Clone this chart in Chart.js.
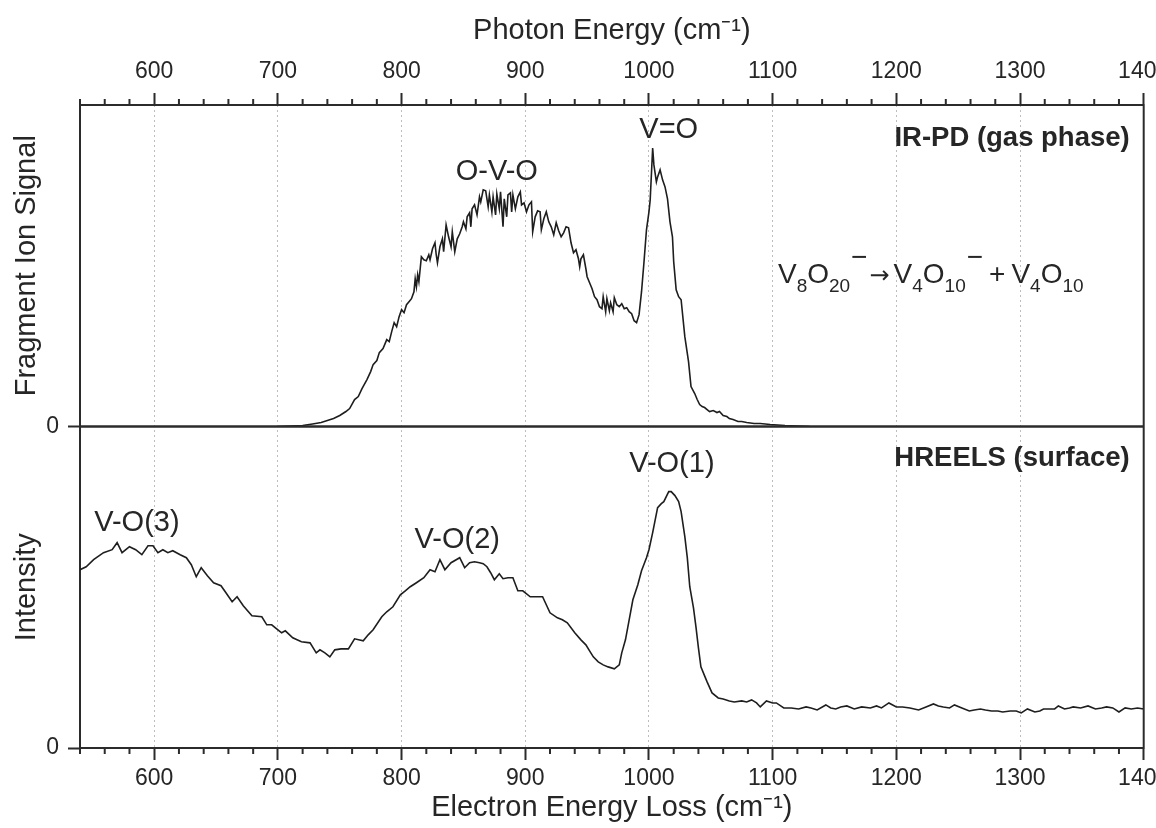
<!DOCTYPE html>
<html><head><meta charset="utf-8">
<script src="https://cdn.jsdelivr.net/npm/chart.js@4.4.1/dist/chart.umd.min.js"></script>
<style>html,body{margin:0;padding:0;background:#fff;}canvas{display:block;}</style>
</head><body>
<canvas id="c" width="1156" height="828"></canvas>
<script>
// ---------- data (x in cm^-1, y in arbitrary intensity units) ----------
const irpdX = [700,710,720,728,735,740,745,750,755,758,
762,765,768,772,775,777,780,782,785,788,
790,792,794,796,798,800,802,804,806,808,
810,811,812,813,814,816,818,820,822,823,
825,827,828,829,831,833,834,836,838,840,
841,843,845,847,849,850,852,853,855,856,
857,859,861,863,864,866,868,870,871,873,
874,876,877,879,880,882,883,885,886,888,
889,890,892,894,896,897,899,901,903,905,
906,908,910,912,913,915,917,919,921,923,
925,927,929,931,933,935,937,939,941,943,
944,945,947,949,950,952,954,956,958,960,
962,963,965,966,968,969,971,972,974,976,
978,980,982,984,986,988,990,992,994,996,
998,1000,1001,1003,1004,1006,1007,1009,1011,1013,
1015,1017,1019,1020,1022,1024,1026,1029,1032,1034,
1037,1039,1041,1043,1045,1047,1049,1052,1055,1057,
1060,1063,1065,1068,1072,1075,1079,1085,1090,1098,
1110,1120,1130];
const irpdY = [0,0.5,1,2.5,4,6,8,11,15,18,
27,30,38,47,55,62,66,74,78,87,
85,95,104,100,110,117,114,122,125,128,
135,148,140,152,145,170,167,166,172,167,
178,184,172,164,180,188,175,202,190,180,
195,175,188,193,200,205,198,210,214,200,
218,222,212,230,225,237,236,220,232,215,
230,212,233,218,235,200,228,210,232,234,
215,232,218,230,235,222,224,215,222,225,
195,210,216,215,197,208,215,205,200,192,
204,196,190,194,200,199,184,174,177,168,
160,168,172,158,150,144,138,130,127,120,
118,130,115,128,116,124,115,129,122,120,
123,118,119,115,113,106,104,112,135,165,
197,215,227,279,262,245,250,257,247,240,
228,205,190,165,137,130,127,90,65,40,
33,27,22,20,19,17,15,16,14,15,
11,10,8,7,5,5,4,3,3,2,
1,0.5,0];

const hreelsX = [540,545,551,559,566,570,574,580,585,590,
595,599,603,607,611,615,621,626,630,634,
638,643,648,654,658,663,667,672,679,687,
691,695,699,703,706,712,719,726,731,734,
738,742,746,751,757,762,769,773,777,784,
788,793,799,803,807,812,818,823,827,831,
835,840,847,851,855,859,863,866,869,872,
875,879,882,886,890,894,898,904,909,914,
920,926,930,934,940,945,949,952,955,959,
963,967,972,976,978,981,984,987,991,994,
998,1000,1003,1007,1010,1012,1016,1018,1021,1024,
1026,1029,1031,1033,1036,1038,1040,1042,1045,1047,
1051,1056,1060,1065,1069,1075,1079,1083,1087,1090,
1095,1100,1103,1109,1115,1121,1127,1131,1136,1143,
1147,1151,1155,1160,1166,1172,1179,1184,1188,1194,
1200,1205,1211,1218,1224,1230,1234,1238,1243,1247,
1253,1259,1263,1268,1272,1277,1282,1286,1292,1297,
1301,1306,1312,1316,1319,1324,1328,1331,1336,1340,
1343,1349,1355,1361,1366,1370,1375,1380,1385,1390,
1395,1400];
const hreelsY = [178,181,188,195,198,205,195,201,198,193,
202,202,195,198,195,197,193,190,183,171,
180,172,165,162,155,146,151,142,132,131,
123,123,119,115,117,110,106,105,95,98,
95,91,98,99,99,109,107,113,118,131,
136,141,153,157,161,165,170,178,176,188,
178,185,190,180,185,186,185,184,181,175,
168,174,169,170,170,157,157,151,151,151,
135,130,128,125,115,108,103,97,91,86,
83,81,79,83,95,108,128,148,163,177,
190,198,215,240,244,246,256,256,252,246,
236,211,190,161,140,121,100,81,72,66,
55,50,49,47,46,47,46,48,45,41,
47,45,45,40,40,39,41,40,38,43,
40,39,41,42,39,41,40,42,40,45,
41,41,40,38,41,44,42,41,40,43,
40,37,38,39,38,37,37,36,37,37,
35,39,36,37,39,39,39,42,39,40,
41,40,42,39,40,41,40,36,40,39,
40,39];

const xMin = 540, xMax = 1400, majorStep = 100, minorStep = 20;
const yTopMax = 322, yBotMax = 321;
const topTitle = 'Photon Energy (cm\u207B\u00B9)';
const bottomTitle = 'Electron Energy Loss (cm\u207B\u00B9)';
const yTopTitle = 'Fragment Ion Signal';
const yBotTitle = 'Intensity';
const panelTopLabel = 'IR-PD (gas phase)';
const panelBotLabel = 'HREELS (surface)';
const peakLabels = [
  {text:'O-V-O', x:877, y:255, axis:'yTop'},
  {text:'V=O', x:1016, y:297, axis:'yTop'},
  {text:'V-O(1)', x:1018.5, y:284, axis:'yBot'},
  {text:'V-O(3)', x:586, y:225, axis:'yBot'},
  {text:'V-O(2)', x:845, y:208, axis:'yBot'}
];

// ---------- styling ----------
const FONT = '"Liberation Sans", Arial, Helvetica, sans-serif';
const INK = '#262626';
const AXIS = '#2b2b2b';

const isMajor = v => Math.abs(v % majorStep) < 1e-6;

function xAxis(position) {
  return {
    type:'linear', position, min:xMin, max:xMax,
    ticks:{stepSize:minorStep, autoSkip:false, maxRotation:0, color:INK,
      padding: position==='top'?8:5,
      font:{family:FONT, size:23},
      callback:v => isMajor(v) ? String(v) : ''},
    grid:{
      drawOnChartArea: position==='bottom',
      color: c => (c.tick && isMajor(c.tick.value) && c.tick.value!==xMax) ? '#bdbdbd' : 'rgba(0,0,0,0)',
      lineWidth:1,
      tickLength:12, tickWidth:2,
      tickColor: c => (c.tick && isMajor(c.tick.value)) ? AXIS : 'rgba(0,0,0,0)',
      tickBorderDash:[]
    },
    border:{display:true, color:AXIS, width:2, dash:[2,3]},
    title:{display:true, text: position==='top'?topTitle:bottomTitle, color:INK,
      font:{family:FONT, size:29},
      padding: position==='top'?{top:14,bottom:0}:{top:0,bottom:3}},
    afterFit: s => { s.height = position==='top'?105:80; s.paddingLeft=0; s.paddingRight=0; }
  };
}
function yAxis(max, title) {
  return {
    type:'linear', position:'left', stack:'panels', stackWeight:1, min:0, max,
    afterBuildTicks: s => { s.ticks = [{value:0}]; },
    ticks:{color:INK, padding:9, font:{family:FONT, size:23}},
    grid:{drawOnChartArea:false, tickLength:12, tickWidth:2, tickColor:AXIS},
    border:{display:true, color:AXIS, width:2},
    title:{display:true, text:title, color:INK, font:{family:FONT, size:29}, padding:{top:10,bottom:0}},
    afterFit: s => { s.width = 80; s.paddingTop=0; s.paddingBottom=0; }
  };
}

const decor = {
  id:'decor',
  afterDraw(chart){
    const {ctx, chartArea:a, scales} = chart;
    const yT = scales.yTop, yB = scales.yBot, x = scales.x;
    ctx.save();
    ctx.strokeStyle = AXIS;
    ctx.lineWidth = 2;
    ctx.beginPath(); ctx.moveTo(a.right, a.top-1); ctx.lineTo(a.right, a.bottom+1); ctx.stroke();
    const ym = yT.getPixelForValue(0);
    ctx.lineWidth = 2.5;
    ctx.beginPath(); ctx.moveTo(a.left, ym); ctx.lineTo(a.right, ym); ctx.stroke();
    ctx.lineWidth = 2;
    for (const s of [scales.x, scales.x2]) {
      const y0 = s.position==='bottom' ? a.bottom : a.top;
      const dir = s.position==='bottom' ? 1 : -1;
      for (const t of s.ticks) {
        if (isMajor(t.value)) continue;
        const px = s.getPixelForValue(t.value);
        ctx.beginPath(); ctx.moveTo(px, y0); ctx.lineTo(px, y0+dir*6); ctx.stroke();
      }
    }
    // labels
    ctx.fillStyle = INK;
    ctx.textBaseline = 'middle';
    ctx.textAlign = 'center';
    ctx.font = '29px '+FONT;
    for (const l of peakLabels) {
      ctx.fillText(l.text, x.getPixelForValue(l.x), scales[l.axis].getPixelForValue(l.y));
    }
    ctx.font = 'bold 27.5px '+FONT;
    ctx.textAlign = 'right';
    ctx.fillText(panelTopLabel, a.right-14, yT.top+33);
    ctx.fillText(panelBotLabel, a.right-14, yB.top+32);
    // reaction equation
    const parts = [['V','m',0],['8','b',0],['O','m',0],['20','b',0],['\u2212','p',1],['\u2192','a',2],
      ['V','m',4],['4','b',0],['O','m',0],['10','b',0],['\u2212','p',1],['+','m',6],
      ['V','m',6],['4','b',0],['O','m',0],['10','b',0]];
    let cx = x.getPixelForValue(1104.3);
    const base = yT.getPixelForValue(144);
    ctx.textAlign = 'left';
    ctx.textBaseline = 'alphabetic';
    for (const [t,k,g] of parts) {
      cx += g;
      let dy = 0;
      if (k==='m') ctx.font = '28px '+FONT;
      else if (k==='a') { ctx.font = '24px "DejaVu Sans", sans-serif'; dy = 0; }
      else if (k==='b') { ctx.font = '19px '+FONT; dy = 9; }
      else { ctx.font = '28px '+FONT; dy = -17; }
      ctx.fillText(t, cx, base+dy);
      cx += ctx.measureText(t).width;
    }
    ctx.restore();
  }
};

const toPts = (xs, ys) => xs.map((v,i)=>({x:v, y:ys[i]}));

new Chart(document.getElementById('c'), {
  type:'line',
  data:{datasets:[
    {label:'IR-PD', data:toPts(irpdX, irpdY), xAxisID:'x', yAxisID:'yTop',
      borderColor:'#1e1e1e', borderWidth:1.6, pointRadius:0, tension:0, fill:false},
    {label:'HREELS', data:toPts(hreelsX, hreelsY), xAxisID:'x', yAxisID:'yBot',
      borderColor:'#1e1e1e', borderWidth:1.6, pointRadius:0, tension:0, fill:false}
  ]},
  options:{
    responsive:false, animation:false,
    layout:{padding:{left:0, right:12.3, top:0, bottom:0}},
    plugins:{legend:{display:false}, tooltip:{enabled:false}},
    scales:{
      x: xAxis('bottom'),
      x2: xAxis('top'),
      yBot: yAxis(yBotMax, yBotTitle),
      yTop: yAxis(yTopMax, yTopTitle)
    }
  },
  plugins:[decor]
});
</script>
</body></html>
